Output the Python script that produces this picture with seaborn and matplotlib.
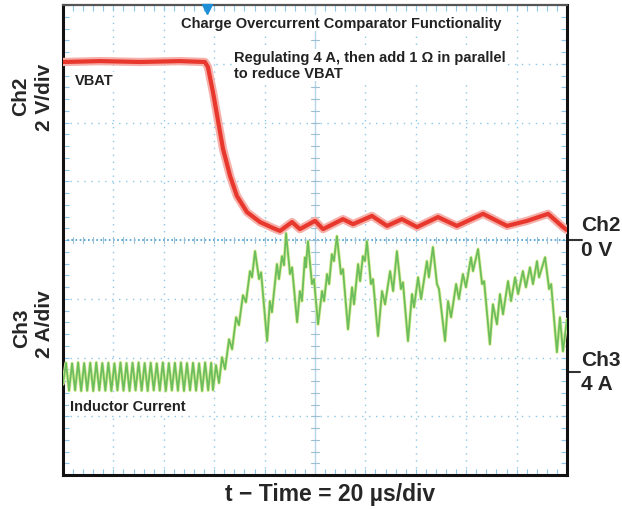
import numpy as np
import pandas as pd
import matplotlib
matplotlib.use("Agg")
import matplotlib.pyplot as plt
import seaborn as sns

# ---------------- data (read from the scope capture) ----------------
# Ch2: VBAT (V) vs time (us)
vbat_t = [0, 14.7, 30.6, 46.4, 56.3, 57.5, 59.5, 63.5, 66.3, 69.0, 73.0, 78.2, 83.3,
          86.1, 90.9, 94.0, 100.0, 103.2, 111.1, 115.1, 122.6, 128.6, 134.5, 140.5,
          148.8, 156.3, 166.7, 176.2, 184.1, 192.5, 198.4, 200.0]
vbat_v = [6.06, 6.09, 6.06, 6.09, 6.06, 5.89, 5.04, 3.10, 2.18, 1.50, 0.95, 0.61, 0.41,
          0.31, 0.61, 0.37, 0.65, 0.37, 0.71, 0.54, 0.82, 0.48, 0.71, 0.44,
          0.78, 0.48, 0.89, 0.48, 0.65, 0.89, 0.44, 0.34]

# Ch3: inductor current (A) vs time (us)
il_t = [0.0, 1.2, 2.4, 3.6, 4.8, 6.0, 7.2, 8.4, 9.6, 10.8, 12.0, 13.2, 14.4, 15.6,
        16.8, 18.0, 19.2, 20.4, 21.6, 22.8, 24.0, 25.2, 26.4, 27.6, 28.8, 30.0,
        31.2, 32.4, 33.6, 34.8, 36.0, 37.2, 38.4, 39.6, 40.8, 42.0, 43.2, 44.4,
        45.6, 46.8, 48.0, 49.2, 50.4, 51.6, 52.8, 54.0, 55.2, 56.4, 57.6, 58.8,
        59.5, 60.7, 61.9, 63.1, 64.3, 65.9, 67.1, 68.7, 69.8, 71.4, 72.6, 74.2, 75.0, 76.2,
        77.8, 78.6, 81.0,
        82.1, 82.9, 84.9, 85.7, 86.9, 87.7, 88.5,
        90.1, 90.9, 92.9,
        94.0, 94.8, 96.0, 96.4, 97.2,
        98.8, 99.6, 101.2,
        102.8, 103.6, 104.8, 105.6, 106.7, 107.5, 108.7,
        110.3, 111.1, 113.1,
        114.7, 115.5, 117.1, 117.9, 119.0, 119.8, 120.6,
        122.2, 123.0, 125.0,
        126.6, 127.8, 129.8, 131.0, 132.5,
        134.1, 134.9, 136.9,
        138.5, 139.3, 140.9, 142.1, 144.4, 145.2, 146.8,
        148.4, 149.2, 151.6,
        152.8, 154.0, 156.0, 157.1, 158.7, 159.9, 161.9, 162.7, 164.7,
        166.3, 167.1, 169.4,
        170.6, 172.2, 173.4, 174.6, 176.6, 177.8, 179.4, 180.6, 182.5, 183.7,
        185.3, 186.5, 188.1, 188.9, 191.3,
        192.9, 193.7, 196.0, 197.2, 198.4, 200.0]
il_a = [3.60, 4.32, 3.37, 4.30, 3.38, 4.33, 3.36, 4.31, 3.37, 4.32, 3.36, 4.33,
        3.38, 4.31, 3.37, 4.32, 3.36, 4.30, 3.38, 4.33, 3.37, 4.31, 3.36, 4.32,
        3.38, 4.33, 3.37, 4.31, 3.36, 4.32, 3.38, 4.30, 3.37, 4.33, 3.36, 4.31,
        3.38, 4.32, 3.37, 4.33, 3.36, 4.31, 3.38, 4.32, 3.37, 4.30, 3.36, 4.33,
        3.38, 4.32,
        3.39, 4.24, 3.63, 4.51, 4.10, 5.12, 4.78, 5.87, 5.60, 6.62, 6.38, 7.44, 7.23, 8.12,
        7.17, 7.40, 5.06,
        6.42, 6.04, 7.68, 7.17, 7.95, 7.64, 8.73,
        7.34, 7.57, 5.70,
        6.76, 6.42, 7.91, 7.57, 8.46,
        7.00, 7.17, 5.63,
        6.76, 6.42, 7.34, 7.00, 8.02, 7.78, 8.63,
        7.34, 7.51, 5.46,
        6.89, 6.31, 7.68, 7.10, 7.95, 7.78, 8.46,
        7.00, 7.17, 5.23,
        6.76, 6.31, 7.44, 6.76, 8.12,
        6.83, 7.06, 5.06,
        6.66, 6.21, 7.23, 6.49, 7.78, 7.23, 8.26,
        7.00, 6.83, 5.06,
        6.42, 5.87, 7.00, 6.49, 7.34, 6.89, 7.91, 7.44, 8.19,
        7.00, 7.10, 4.95,
        6.31, 5.63, 6.66, 5.97, 7.10, 6.42, 7.23, 6.66, 7.44, 6.89,
        7.57, 7.00, 7.78, 7.23, 7.91,
        6.83, 7.00, 4.68, 5.87, 4.71, 5.80]

# scope settings
ch2_scale = 2.0                          # V/div, 0 V at center
ch3_scale, ch3_ref, ch3_ref_div = 2.0, 4.0, -2.25   # A/div, 4 A marker
time_per_div = 20.0

# ---------------- figure ----------------
sns.set_theme(style="white")
plt.rcParams['font.family'] = ['Liberation Sans', 'DejaVu Sans']
fig = plt.figure(figsize=(6.22, 5.10), dpi=100)
ax = fig.add_axes([63/622, 1-476/510, 504/622, 470/510])

df_v = pd.DataFrame({"t": vbat_t, "div": np.array(vbat_v) / ch2_scale})
df_i = pd.DataFrame({"t": il_t,
                     "div": ch3_ref_div + (np.array(il_a) - ch3_ref) / ch3_scale})

gridc = '#8cc6e8'
ax.set_xlim(0, 10 * time_per_div)
ax.set_ylim(-4, 4)
# division grid
for k in range(1, 10):
    if k == 5:
        continue
    ax.axvline(k * time_per_div, color=gridc, lw=1.0, ls=(0, (1, 4)), zorder=1)
for k in range(-3, 4):
    if k == 0:
        continue
    ax.axhline(k, color=gridc, lw=1.0, ls=(0, (1, 4)), zorder=1)
# center lines with tick marks
ax.axvline(100, color='#b5d6e8', lw=1.0, zorder=1)
ax.axhline(0, color='#3d9bd6', lw=1.2, ls=(0, (1, 1.5)), zorder=1)
for xv in np.arange(0, 200.1, 4):
    ax.plot([xv, xv], [-0.05, 0.05], color='#9cbfd2', lw=0.8, zorder=1)
for yv in np.arange(-4, 4.01, 0.2):
    ax.plot([98.5, 101.5], [yv, yv], color='#9cbfd2', lw=0.8, zorder=1)

# traces
sns.lineplot(data=df_v, x="t", y="div", ax=ax, sort=False, estimator=None,
             color='#f6b0aa', lw=6.0, zorder=3, legend=False)
sns.lineplot(data=df_v, x="t", y="div", ax=ax, sort=False, estimator=None,
             color='#e8372c', lw=3.0, zorder=4, legend=False)
sns.lineplot(data=df_i, x="t", y="div", ax=ax, sort=False, estimator=None,
             color='#dcef9a', lw=2.4, zorder=3, legend=False)
sns.lineplot(data=df_i, x="t", y="div", ax=ax, sort=False, estimator=None,
             color='#6cbd5e', lw=1.3, zorder=4, legend=False)

ax.set_xlabel("")
ax.set_ylabel("")
ax.set_xticks(np.arange(0, 200.1, 4), minor=True)
ax.set_yticks(np.arange(-4, 4.01, 0.2), minor=True)
ax.set_xticks([])
ax.set_yticks([])
ax.tick_params(which='minor', direction='in', length=4, color=gridc, width=0.8,
               top=True, right=True, bottom=True, left=True,
               labelbottom=False, labelleft=False)
for s in ['left', 'bottom', 'right']:
    ax.spines[s].set_color('#111111')
    ax.spines[s].set_linewidth(2.2)
ax.spines['top'].set_color('#555555')
ax.spines['top'].set_linewidth(1.6)

# trigger marker
ax.plot([57.2], [3.93], marker='v', color='#1e8fd6', ms=7, zorder=6, clip_on=False)

# annotations inside screen
box = dict(facecolor='white', edgecolor='none', pad=1.0)
fs_in = 10.5
ax.text((181 - 63) / 2.52, (241 - 24) / 58.75, "Charge Overcurrent Comparator Functionality",
        fontsize=fs_in, fontweight='bold', va='center', ha='left', color='#222222',
        bbox=box, zorder=7)
ax.text((234 - 63) / 2.52, (241 - 66) / 58.75,
        "Regulating 4 A, then add 1 \u03a9 in parallel\nto reduce VBAT",
        fontsize=fs_in, fontweight='bold', va='center', ha='left', color='#222222',
        linespacing=1.12, bbox=box, zorder=7)
ax.text((75 - 63) / 2.52, (241 - 81) / 58.75, "VBAT", fontsize=fs_in, fontweight='bold',
        va='center', ha='left', color='#222222', bbox=box, zorder=7)
ax.text((70 - 63) / 2.52, (241 - 407) / 58.75, "Inductor Current", fontsize=fs_in,
        fontweight='bold', va='center', ha='left', color='#222222', bbox=box, zorder=7)

# right side channel markers
ax.plot([200, 206], [0, 0], color='#333333', lw=1.5, clip_on=False)
ax.plot([200, 205], [ch3_ref_div, ch3_ref_div], color='#333333', lw=1.5, clip_on=False)
fs_out = 15
fig.text(581/622, 1 - 226/510, "Ch2", fontsize=fs_out, fontweight='bold', va='center', ha='left')
fig.text(581/622, 1 - 250/510, "0 V", fontsize=fs_out, fontweight='bold', va='center', ha='left')
fig.text(581/622, 1 - 361/510, "Ch3", fontsize=fs_out, fontweight='bold', va='center', ha='left')
fig.text(581/622, 1 - 385/510, "4 A", fontsize=fs_out, fontweight='bold', va='center', ha='left')

# left side scale labels
fig.text(21/622, 1 - 96/510, "Ch2", fontsize=fs_out, fontweight='bold', rotation=90,
         va='center', ha='center')
fig.text(44/622, 1 - 97/510, "2 V/div", fontsize=fs_out, fontweight='bold', rotation=90,
         va='center', ha='center')
fig.text(22/622, 1 - 328/510, "Ch3", fontsize=fs_out, fontweight='bold', rotation=90,
         va='center', ha='center')
fig.text(45/622, 1 - 324/510, "2 A/div", fontsize=fs_out, fontweight='bold', rotation=90,
         va='center', ha='center')

# bottom time label
fig.text(330/622, 1 - 495/510, "t \u2212 Time = 20 \u00b5s/div", fontsize=16.5,
         fontweight='bold', va='center', ha='center')

fig.savefig("out.png", dpi=100, facecolor='white')
